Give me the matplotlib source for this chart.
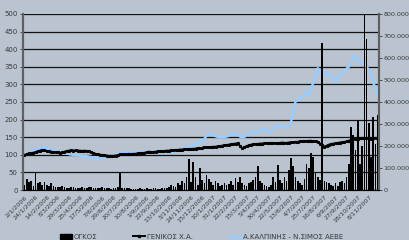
import matplotlib
matplotlib.use("Agg")
import matplotlib.pyplot as plt
from matplotlib.lines import Line2D
from matplotlib.patches import Patch
from matplotlib.ticker import FuncFormatter, MultipleLocator
import numpy as np

tick_labels = ["2/1/2006", "24/1/2006", "14/2/2006", "8/3/2006", "29/3/2006", "25/4/2006",
               "17/5/2006", "7/6/2006", "29/6/2006", "20/7/2006", "10/8/2006", "1/9/2006",
               "22/9/2006", "13/10/2006", "3/11/2006", "24/11/2006", "15/12/2006", "10/1/2007",
               "31/1/2007", "22/2/2007", "15/3/2007", "5/4/2007", "30/4/2007", "22/5/2007",
               "13/6/2007", "4/7/2007", "25/7/2007", "16/8/2007", "6/9/2007", "27/9/2007",
               "18/10/2007", "8/11/2007"]

general_index = [
    100, 102, 104, 105, 106, 108, 110, 112, 114, 113,
    111, 110, 109, 108, 107, 107, 106, 107, 109, 111,
    112, 113, 112, 113, 112, 112, 111, 112, 111, 110,
    108, 105, 103, 101, 100, 100, 99, 98, 97, 97,
    97, 98, 99, 101, 102, 101, 102, 103, 102, 103,
    103, 104, 104, 105, 106, 107, 109, 108, 108, 109,
    110, 110, 111, 111, 112, 112, 113, 113, 114, 114,
    115, 115, 116, 116, 116, 117, 117, 118, 119, 119,
    120, 121, 121, 122, 122, 123, 123, 124, 125, 126,
    127, 128, 129, 130, 131, 132, 133, 125, 119, 122,
    125, 127, 129, 130, 131, 131, 132, 132, 133, 133,
    133, 134, 134, 133, 133, 134, 135, 134, 134, 135,
    136, 136, 137, 137, 138, 138, 139, 139, 140, 140,
    139, 138, 136, 132, 127, 123, 126, 129, 131, 132,
    133, 134, 135, 136, 137, 138, 140, 142, 144, 145,
    146, 147, 147, 148, 147, 147, 146, 147, 148, 147]

kalpinis = [
    100, 102, 106, 110, 113, 115, 117, 119, 121, 122,
    120, 117, 115, 113, 112, 110, 108, 106, 105, 104,
    102, 101, 100, 100, 99, 98, 97, 97, 96, 95,
    94, 93, 93, 92, 92, 93, 93, 94, 94, 95,
    95, 96, 100, 104, 105, 104, 105, 105, 106, 106,
    107, 107, 108, 108, 109, 109, 109, 108, 106, 105,
    105, 106, 106, 107, 107, 108, 108, 109, 110, 112,
    114, 116, 119, 121, 122, 125, 128, 133, 136, 138,
    140, 146, 155, 162, 160, 156, 153, 151, 150, 150,
    151, 152, 154, 158, 162, 160, 157, 152, 150, 151,
    156, 162, 168, 165, 162, 166, 170, 176, 172, 168,
    166, 170, 176, 182, 185, 183, 180, 178, 179, 186,
    194, 230, 251, 256, 261, 265, 270, 279, 272, 290,
    304, 325, 346, 340, 332, 328, 334, 332, 325, 316,
    308, 318, 332, 336, 340, 345, 350, 362, 379, 380,
    378, 360, 362, 355, 350, 341, 330, 304, 290, 276]

volume_k = [
    25, 50, 35, 42, 20, 77, 30, 38, 25, 38,
    22, 18, 32, 20, 15, 12, 14, 20, 12, 10,
    10, 12, 15, 8, 10, 8, 14, 9, 8, 12,
    16, 10, 8, 9, 8, 12, 10, 8, 9, 7,
    8, 10, 12, 79, 10, 8, 9, 8, 7, 6,
    6, 7, 8, 7, 6, 8, 7, 6, 10, 8,
    7, 6, 8, 9, 10, 12, 25, 18, 14, 30,
    22, 40, 30, 60, 140, 35, 129, 60, 25, 100,
    45, 30, 70, 50, 35, 25, 40, 30, 20, 25,
    30, 22, 28, 40, 25, 55, 35, 60, 30, 25,
    20, 30, 35, 45, 60, 109, 40, 30, 25, 20,
    15, 25, 60, 35, 114, 45, 30, 60, 40, 90,
    145, 110, 60, 40, 30, 25, 50, 120, 100, 168,
    150, 80, 60, 45, 667, 40, 35, 30, 25, 20,
    30, 20, 35, 40, 30, 60, 120, 286, 250, 180,
    318, 120, 200, 820, 686, 305, 150, 332, 210, 341]

legend_labels = ["ΟΓΚΟΣ", "ΓΕΝΙΚΟΣ Χ.Α.", "Α.ΚΑΛΠΙΝΗΣ - Ν.ΣΙΜΟΣ ΑΕΒΕ"]

bg = "#b9c4d0"
txt = "#3a3a3a"
plt.rcParams["font.family"] = ["DejaVu Sans"]

fig = plt.figure(figsize=(4.1, 2.4), dpi=100, facecolor=bg)
ax = fig.add_axes([0.057, 0.208, 0.867, 0.734])
ax.set_facecolor(bg)
x = np.arange(len(general_index))

for v in range(0, 501, 50):
    ax.axhline(v, color="#111111", lw=0.9, zorder=1)

ax.plot(x, kalpinis, color="#99ccff", lw=1.8, zorder=3)
ax.plot(x, general_index, color="black", lw=1.4, marker="s", ms=1.2, zorder=3)
ax.set_ylim(0, 500)
ax.set_xlim(-0.5, len(x) - 0.5)
ax.yaxis.set_major_locator(MultipleLocator(50))

ax2 = ax.twinx()
ax2.bar(x, [v * 1000 for v in volume_k], width=0.75, color="black", zorder=2)
ax2.set_ylim(0, 800000)
ax2.yaxis.set_major_locator(MultipleLocator(100000))
ax2.yaxis.set_major_formatter(FuncFormatter(lambda v, p: "0" if v == 0 else f"{int(v):,}".replace(",", ".")))
ax2.set_xlim(-0.5, len(x) - 0.5)

for a in (ax, ax2):
    a.spines["top"].set_visible(False)
    a.spines["left"].set_color("#606060")
    a.spines["left"].set_linewidth(1.5)
    a.spines["right"].set_color("#606060")
    a.spines["right"].set_linewidth(1.5)
    a.spines["bottom"].set_color("black")

ax.tick_params(axis="y", labelsize=5, colors=txt, length=2, width=0.6, pad=2)
ax2.tick_params(axis="y", labelsize=4.6, colors=txt, length=2, width=0.6, pad=1.2)
ax.set_xticks(x[::5][:len(tick_labels)])
ax.set_xticklabels(tick_labels, rotation=45, ha="right", rotation_mode="anchor",
                   fontsize=4.6, color=txt)
ax.tick_params(axis="x", length=0, pad=3)

handles = [Patch(facecolor="black", edgecolor="black"),
           Line2D([], [], color="black", lw=1.4, marker="s", ms=2),
           Line2D([], [], color="#99ccff", lw=1.8)]
fig.legend(handles, legend_labels, loc="lower center", bbox_to_anchor=(0.492, -0.025),
           ncol=3, frameon=False, fontsize=5, labelcolor=txt, columnspacing=5.2,
           handlelength=1.7, handletextpad=0.3, handleheight=0.8)

fig.savefig("out.png", dpi=100, facecolor=bg)
